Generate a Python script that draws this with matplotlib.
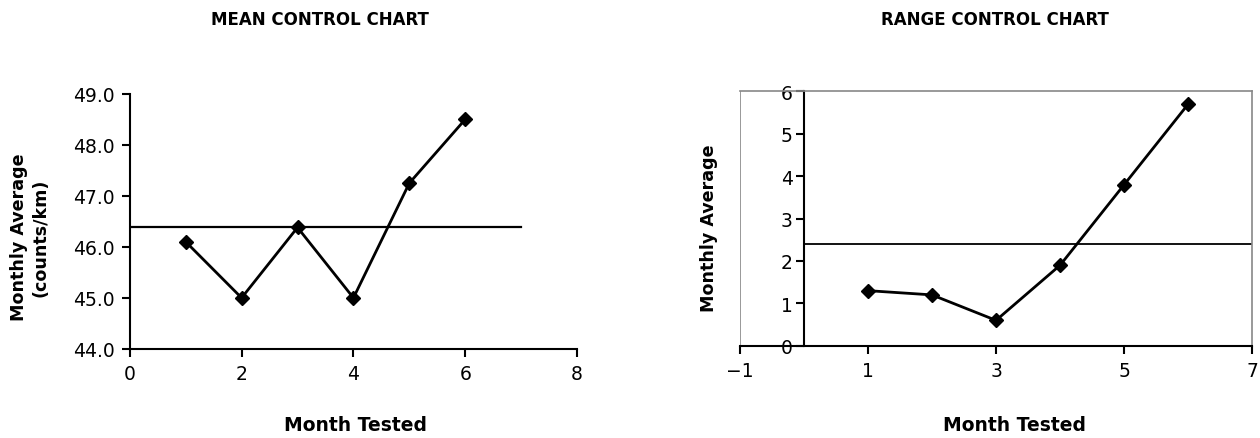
import matplotlib.pyplot as plt
import numpy as np

months = np.array([1, 2, 3, 4, 5, 6])
mean_vals = np.array([46.1, 45.0, 46.38, 45.0, 47.25, 48.5])
range_vals = np.array([1.3, 1.2, 0.6, 1.9, 3.8, 5.7])
mean_center = 46.38
range_center = 2.4
center_x = [0, 7]

plt.rcParams['font.family'] = 'DejaVu Sans'

fig = plt.figure(figsize=(12.6, 4.39), dpi=100)

# mean chart
ax1 = fig.add_axes([0.103, 0.203, 0.355, 0.581])
ax1.plot(months, mean_vals, color='black', lw=2, marker='D', ms=7)
ax1.plot(center_x, [mean_center, mean_center], color='black', lw=1.6)
ax1.set_xlim(0, 8)
ax1.set_ylim(44, 49)
ax1.set_xticks([0, 2, 4, 6, 8])
ax1.set_yticks(np.arange(44, 49.5, 1))
ax1.set_yticklabels([f"{v:.1f}" for v in np.arange(44, 49.5, 1)])
for s in ['top', 'right']:
    ax1.spines[s].set_visible(False)
for s in ['left', 'bottom']:
    ax1.spines[s].set_linewidth(1.5)
ax1.tick_params(direction='out', length=6, width=1.5, labelsize=13.5, pad=5)
ax1.set_xlabel('Month Tested', fontsize=13.5, fontweight='bold')
ax1.xaxis.set_label_coords(0.505, -0.258)
ax1.set_ylabel('Monthly Average\n(counts/km)', fontsize=12.6, fontweight='bold')
ax1.yaxis.set_label_coords(-0.18, 0.44)
fig.text(0.254, 0.955, 'MEAN CONTROL CHART', ha='center', va='center',
         fontsize=12, fontweight='bold')

# range chart
ax2 = fig.add_axes([0.587, 0.21, 0.407, 0.58])
ax2.plot(months, range_vals, color='black', lw=2, marker='D', ms=7)
ax2.plot(center_x, [range_center, range_center], color='black', lw=1.3)
ax2.set_xlim(-1, 7)
ax2.set_ylim(0, 6)
ax2.set_xticks([-1, 1, 3, 5, 7])
ax2.set_xticklabels(['\u22121', '1', '3', '5', '7'])
ax2.set_yticks(range(0, 7))
ax2.spines['left'].set_position(('data', 0))
ax2.spines['left'].set_linewidth(1.5)
ax2.spines['bottom'].set_linewidth(1.5)
for s in ['top', 'right']:
    ax2.spines[s].set_color('#888888')
    ax2.spines[s].set_linewidth(1.2)
ax2.axvline(-1, color='#888888', lw=1.2)
ax2.tick_params(direction='out', length=6, width=1.5, labelsize=13.5, pad=5)
ax2.tick_params(axis='y', pad=2)
ax2.set_xlabel('Month Tested', fontsize=13.5, fontweight='bold')
ax2.xaxis.set_label_coords(0.536, -0.272)
ax2.text(-1.47, 2.8, 'Monthly Average', rotation=90, ha='center', va='center',
         fontsize=12.6, fontweight='bold')
fig.text(0.79, 0.955, 'RANGE CONTROL CHART', ha='center', va='center',
         fontsize=12, fontweight='bold')

fig.savefig('out.png', dpi=100)
